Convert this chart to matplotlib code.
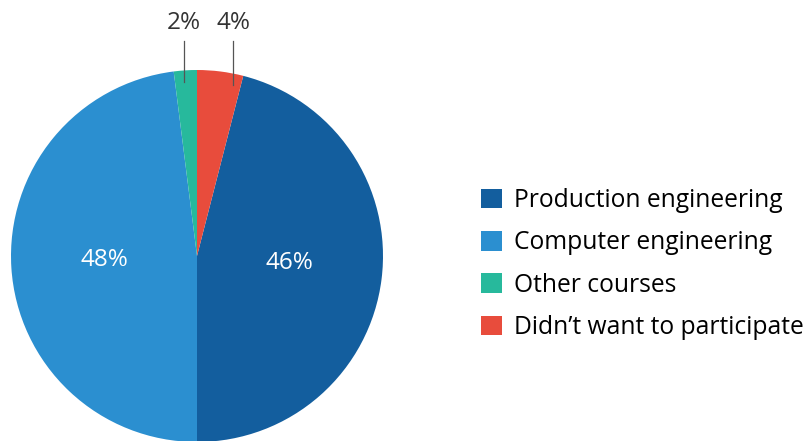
import numpy as np
import matplotlib
matplotlib.use('Agg')
import matplotlib.pyplot as plt
from matplotlib.patches import Patch

plt.rcParams['font.family'] = ['Open Sans', 'DejaVu Sans']

# data
legend_labels = ["Production engineering", "Computer engineering", "Other courses", "Didn\u2019t want to participate"]
shares = [46, 48, 2, 4]
colors = ["#135e9e", "#2b8fd0", "#27b99c", "#e84c3c"]
inside = [True, True, False, False]
leader_frac = [0.5, 0.5, 0.45, 0.78]   # where the leader line sits inside small wedges

W, H = 808, 441
fig = plt.figure(figsize=(W / 100, H / 100), dpi=100)

cx, cy, r = 197, 441 - 256, 186
ax = fig.add_axes([(cx - r) / W, (cy - r) / H, 2 * r / W, 2 * r / H])

start = 90 - 360 * shares[-1] / sum(shares)
wedges, _ = ax.pie(shares, colors=colors, startangle=start, counterclock=False,
                   radius=1, wedgeprops=dict(linewidth=0))
ax.set_xlim(-1, 1)
ax.set_ylim(-1, 1)
ax.set_aspect('equal')
ax.axis('off')

for w, s, ins, f in zip(wedges, shares, inside, leader_frac):
    if ins:
        ang = np.deg2rad((w.theta1 + w.theta2) / 2)
        ax.text(0.5 * np.cos(ang), 0.3 * np.sin(ang), "%d%%" % s,
                ha='center', va='center', color='white', fontsize=17.5)
    else:
        ang = np.deg2rad(w.theta2 - f * (w.theta2 - w.theta1))
        x = np.cos(ang)
        y = np.sin(ang)
        ax.plot([x, x], [y - 0.06, 1.155], color='#555555', lw=0.9,
                clip_on=False)
        ax.text(x, 1.19, "%d%%" % s, ha='center', va='bottom',
                color='#333333', fontsize=17.5, clip_on=False)

handles = [Patch(facecolor=c, edgecolor='none') for c in colors]
fig.legend(handles, legend_labels, loc='center left',
           bbox_to_anchor=(481 / W, 1 - 264 / H), bbox_transform=fig.transFigure,
           frameon=False, fontsize=17.7, handlelength=0.85, handleheight=0.85,
           handletextpad=0.49, labelspacing=0.71, borderpad=0, borderaxespad=0)

fig.savefig("out.png", dpi=100)
